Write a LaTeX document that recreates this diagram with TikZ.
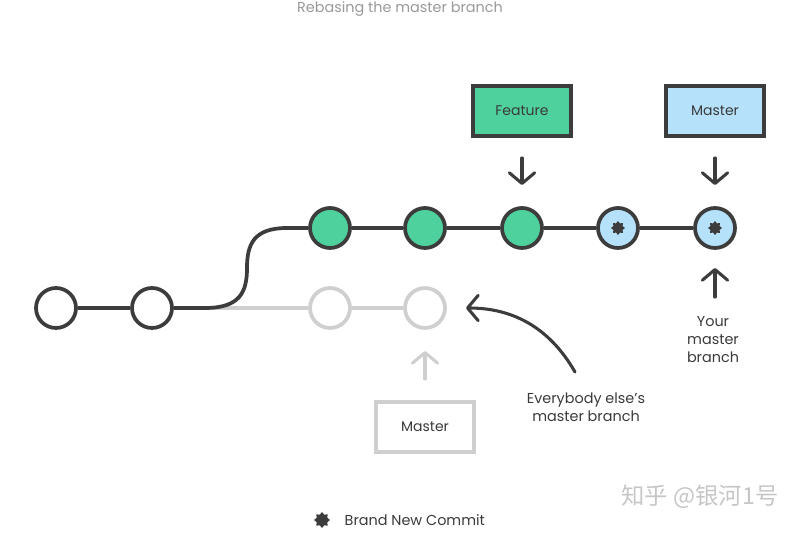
\documentclass[tikz,border=0pt]{standalone}
\usepackage{fontspec}
\setmainfont{Poppins}
\newfontfamily\cjk{Noto Sans CJK SC}
\usetikzlibrary{arrows.meta,shapes.geometric}
\definecolor{ink}{HTML}{3C3C3C}
\definecolor{featgreen}{HTML}{4FD19D}
\definecolor{newblue}{HTML}{B5E2FA}
\definecolor{ghost}{HTML}{CFCFCF}
\definecolor{label}{HTML}{3A3A3A}
\tikzset{
    commit/.style={circle, draw=ink, line width=2.8pt, minimum size=30pt, inner sep=0pt, fill=white},
    oldcommit/.style={commit, draw=ghost},
    branchbox/.style={rectangle, draw=ink, line width=2.8pt, minimum width=73pt, minimum height=37pt, font=\fontsize{10.5}{12}\selectfont, text=label},
    pointer/.style={line width=2.3pt, line cap=round, -{Straight Barb[length=8pt,width=19pt,round]}},
    newmark/.style={star, star points=8, star point ratio=1.4, fill=ink, draw=none, minimum size=10.5pt, inner sep=0pt},
    note/.style={align=center, font=\fontsize{10.8}{13.5}\selectfont, text=label}
}
\begin{document}
\begin{tikzpicture}[x=0.75pt, y=-0.75pt]
            \useasboundingbox (0,0) rectangle (800,534);
            %Nodes
            \node at (400,9) (title) {\fontsize{10.8}{12}\selectfont\color{gray!80}Rebasing the master branch};
            \node[commit] at (56,308) (c1) {};
            \node[commit] at (152,308) (c2) {};
            \coordinate (fork) at (205,308);
            \coordinate (rise) at (287,228);
            \node[oldcommit] at (330,308) (o1) {};
            \node[oldcommit] at (425,308) (o2) {};
            \node[commit, fill=featgreen] at (330,228) (f1) {};
            \node[commit, fill=featgreen] at (425,228) (f2) {};
            \node[commit, fill=featgreen] at (522,228) (f3) {};
            \node[commit, fill=newblue] at (618,228) (n1) {};
            \node[commit, fill=newblue] at (715,228) (n2) {};
            \node[newmark] at (n1) (s1) {};
            \node[newmark] at (n2) (s2) {};

            \node[branchbox, fill=featgreen] at (522,111) (feature) {Feature};
            \node[branchbox, fill=newblue] at (715,111) (master) {Master};
            \node[branchbox, draw=ghost, fill=white] at (425,427) (oldmaster) {Master};

            \coordinate (fa) at (522,158);
            \coordinate (fb) at (522,185);
            \coordinate (ma) at (715,158);
            \coordinate (mb) at (715,185);
            \coordinate (ya) at (715,297);
            \coordinate (yb) at (715,268);
            \coordinate (ga) at (425,379);
            \coordinate (gb) at (425,351);
            \coordinate (ea) at (575,372);
            \coordinate (eb) at (466,308);

            \node[note] at (713,340) (yours) {Your\\master\\branch};
            \node[note] at (586,407) (everybody) {Everybody else’s\\master branch};
            \node[newmark, minimum size=12pt] at (322,520) (key) {};
            \node[note, anchor=west] at (340,520) (keytext) {Brand New Commit};
            \node at (700,497) (mark) {\cjk\fontsize{17.5}{19}\selectfont\color{gray!45}知乎 @银河1号};

            %Lines
            \draw[ghost, line width=2.8pt] (fork) -- (o1);
            \draw[ghost, line width=2.8pt] (o1) -- (o2);
            \draw[ink, line width=2.8pt] (c1) -- (c2);
            \draw[ink, line width=2.8pt] (c2) -- (fork) .. controls (240,308) and (247,292) .. (247,268) .. controls (247,244) and (254,228) .. (rise) -- (f1);
            \draw[ink, line width=2.8pt] (f1) -- (f2);
            \draw[ink, line width=2.8pt] (f2) -- (f3);
            \draw[ink, line width=2.8pt] (f3) -- (n1);
            \draw[ink, line width=2.8pt] (n1) -- (n2);
            \draw[pointer, ink] (fa) -- (fb);
            \draw[pointer, ink] (ma) -- (mb);
            \draw[pointer, ink] (ya) -- (yb);
            \draw[pointer, ghost] (ga) -- (gb);
            \draw[pointer, ink] (ea) .. controls (548,325) and (510,308) .. (eb);
        \end{tikzpicture}
\end{document}
